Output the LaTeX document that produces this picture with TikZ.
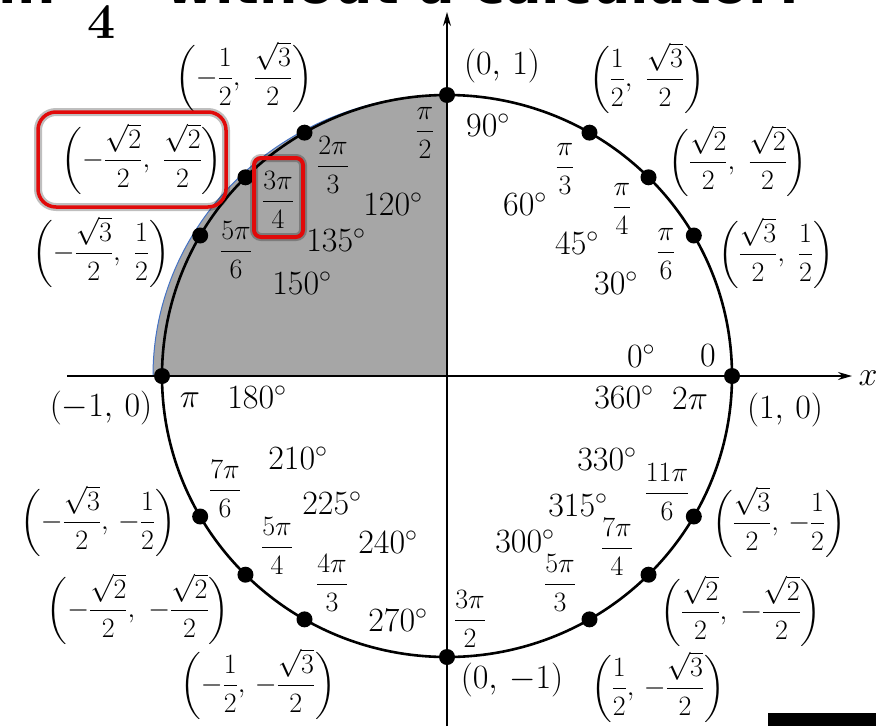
\RequirePackage{fix-cm}
\documentclass[tikz,border=0pt]{standalone}
\usepackage{amsmath,amssymb}
\usepackage{fontspec}
\newfontfamily\headfont{DejaVu Sans}
\usetikzlibrary{arrows.meta,calc}
\definecolor{edgeblue}{RGB}{68,114,196}
\definecolor{boxred}{RGB}{225,10,10}

\begin{document}
\begin{tikzpicture}[x=1pt,y=-1pt,
  fr/.style={font=\fontsize{28}{32}\selectfont,inner sep=0pt},
  dg/.style={font=\fontsize{34}{40}\selectfont,inner sep=0pt},
  dot/.style={circle,fill=black,inner sep=0pt,minimum size=16pt},
  ttl/.style={font=\headfont\bfseries\fontsize{54}{56}\selectfont,inner sep=0pt},
  rbox/.style={draw=boxred,line width=3.5pt},
  glow/.style={draw=black,opacity=.25,line width=8pt},
  >={Stealth[length=14pt,width=8pt]}]
\clip (0,0) rectangle (876,726);
\coordinate (o) at (447,376);
% shaded quadrant
\filldraw[fill=black!35,draw=edgeblue,line width=1pt] (o) -- (447,95)
  arc[start angle=90,end angle=180,x radius=294pt,y radius=281pt] -- cycle;
% axes
\coordinate (xl) at (67,376); \coordinate (xr) at (852,376);
\coordinate (yb) at (447,726); \coordinate (yt) at (447,12);
\draw[line width=1.6pt,->] (xl) -- (xr);
\draw[line width=1.6pt,->] (yb) -- (yt);
\draw[line width=2.6pt] (o) ellipse [x radius=285pt,y radius=281pt];
% points on the circle
\node[dot] (p0) at ($(o)+(0:285pt and 281pt)$) {};
\node[dot] (p30) at ($(o)+(30:285pt and 281pt)$) {};
\node[dot] (p45) at ($(o)+(45:285pt and 281pt)$) {};
\node[dot] (p60) at ($(o)+(60:285pt and 281pt)$) {};
\node[dot] (p90) at ($(o)+(90:285pt and 281pt)$) {};
\node[dot] (p120) at ($(o)+(120:285pt and 281pt)$) {};
\node[dot] (p135) at ($(o)+(135:285pt and 281pt)$) {};
\node[dot] (p150) at ($(o)+(150:285pt and 281pt)$) {};
\node[dot] (p180) at ($(o)+(180:285pt and 281pt)$) {};
\node[dot] (p210) at ($(o)+(210:285pt and 281pt)$) {};
\node[dot] (p225) at ($(o)+(225:285pt and 281pt)$) {};
\node[dot] (p240) at ($(o)+(240:285pt and 281pt)$) {};
\node[dot] (p270) at ($(o)+(270:285pt and 281pt)$) {};
\node[dot] (p300) at ($(o)+(300:285pt and 281pt)$) {};
\node[dot] (p315) at ($(o)+(315:285pt and 281pt)$) {};
\node[dot] (p330) at ($(o)+(330:285pt and 281pt)$) {};
% heading, cut off at the top
\node[ttl,anchor=base east] (ttlin) at (56,3) {in};
\node[ttl,anchor=base west] (ttlcalc) at (165,3) {without a calculator?};
\node[font=\bfseries\fontsize{50}{50}\selectfont,inner sep=0pt] (four) at (102,22) {4};
% coordinates
\node[fr] (c120) at (244,77) {$\biggl(-\dfrac12,\ \dfrac{\sqrt3}{2}\biggr)$};
\node[dg] (c90) at (502,66) {$(0,\,1)$};
\node[fr] (c60) at (647,78) {$\biggl(\dfrac12,\ \dfrac{\sqrt3}{2}\biggr)$};
\node[fr] (c135) at (142,159) {$\biggl(-\dfrac{\sqrt2}{2},\ \dfrac{\sqrt2}{2}\biggr)$};
\node[fr] (c45) at (738,161) {$\biggl(\dfrac{\sqrt2}{2},\ \dfrac{\sqrt2}{2}\biggr)$};
\node[fr] (c150) at (101,252) {$\biggl(-\dfrac{\sqrt3}{2},\ \dfrac12\biggr)$};
\node[fr] (c30) at (776,253) {$\biggl(\dfrac{\sqrt3}{2},\ \dfrac12\biggr)$};
\node[dg] (c180) at (101,408) {$(-1,\,0)$};
\node[dg] (c0) at (785,410) {$(1,\,0)$};
\node[fr] (c210) at (98,521) {$\biggl(-\dfrac{\sqrt3}{2},\,-\dfrac12\biggr)$};
\node[fr] (c330) at (779,522) {$\biggl(\dfrac{\sqrt3}{2},\,-\dfrac12\biggr)$};
\node[fr] (c225) at (138,609) {$\biggl(-\dfrac{\sqrt2}{2},\ -\dfrac{\sqrt2}{2}\biggr)$};
\node[fr] (c315) at (741,611) {$\biggl(\dfrac{\sqrt2}{2},\ -\dfrac{\sqrt2}{2}\biggr)$};
\node[fr] (c240) at (258,684) {$\biggl(-\dfrac12,\,-\dfrac{\sqrt3}{2}\biggr)$};
\node[dg] (c270) at (512,680) {$(0,\,-1)$};
\node[fr] (c300) at (658,687) {$\biggl(\dfrac12,\,-\dfrac{\sqrt3}{2}\biggr)$};
\node[dg] (xlab) at (868,378) {$x$};
% radians
\node[fr] (r90) at (425,133) {$\dfrac{\pi}{2}$};
\node[fr] (r120) at (333,165) {$\dfrac{2\pi}{3}$};
\node[fr] (r135) at (278,200) {$\dfrac{3\pi}{4}$};
\node[fr] (r150) at (236,250) {$\dfrac{5\pi}{6}$};
\node[fr] (r60) at (565,169) {$\dfrac{\pi}{3}$};
\node[fr] (r45) at (622,209) {$\dfrac{\pi}{4}$};
\node[fr] (r30) at (666,254) {$\dfrac{\pi}{6}$};
\node[dg] (r0) at (708,356) {$0$};
\node[dg] (r360) at (690,399) {$2\pi$};
\node[dg] (r180) at (190,400) {$\pi$};
\node[fr] (r210) at (225,489) {$\dfrac{7\pi}{6}$};
\node[fr] (r225) at (277,546) {$\dfrac{5\pi}{4}$};
\node[fr] (r240) at (332,583) {$\dfrac{4\pi}{3}$};
\node[fr] (r270) at (470,619) {$\dfrac{3\pi}{2}$};
\node[fr] (r300) at (560,583) {$\dfrac{5\pi}{3}$};
\node[fr] (r315) at (617,547) {$\dfrac{7\pi}{4}$};
\node[fr] (r330) at (667,492) {$\dfrac{11\pi}{6}$};
% degrees
\node[dg] (d90) at (488,125) {$90^\circ$};
\node[dg] (d120) at (393,204) {$120^\circ$};
\node[dg] (d135) at (336,240) {$135^\circ$};
\node[dg] (d150) at (302,283) {$150^\circ$};
\node[dg] (d60) at (525,204) {$60^\circ$};
\node[dg] (d45) at (577,243) {$45^\circ$};
\node[dg] (d30) at (616,283) {$30^\circ$};
\node[dg] (d0) at (641,356) {$0^\circ$};
\node[dg] (d360) at (624,397) {$360^\circ$};
\node[dg] (d180) at (257,397) {$180^\circ$};
\node[dg] (d210) at (298,458) {$210^\circ$};
\node[dg] (d225) at (332,503) {$225^\circ$};
\node[dg] (d240) at (388,542) {$240^\circ$};
\node[dg] (d270) at (398,620) {$270^\circ$};
\node[dg] (d300) at (525,541) {$300^\circ$};
\node[dg] (d315) at (578,505) {$315^\circ$};
\node[dg] (d330) at (607,459) {$330^\circ$};
% red highlight boxes
\draw[glow,rounded corners=18pt] (38,112) rectangle (226,207);
\draw[rbox,rounded corners=18pt] (38,112) rectangle (226,207);
\draw[glow,rounded corners=7pt] (254,158) rectangle (303,237);
\draw[rbox,line width=4pt,rounded corners=7pt] (254,158) rectangle (303,237);
\fill (768,713) rectangle (876,726);
\end{tikzpicture}
\end{document}
